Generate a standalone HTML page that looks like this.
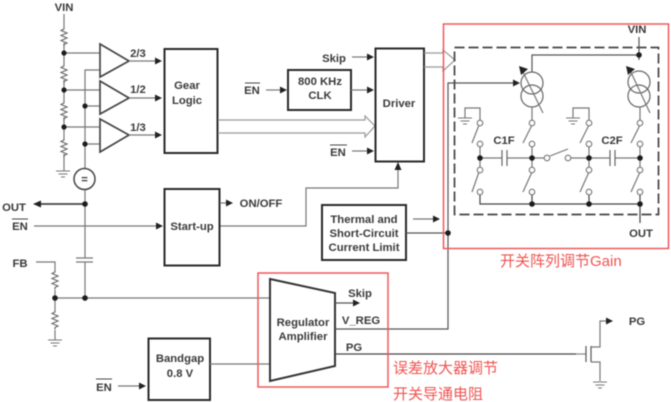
<!DOCTYPE html>
<html><head><meta charset="utf-8"><style>
html,body{margin:0;padding:0;background:#fff;width:671px;height:402px;overflow:hidden}
svg{display:block;filter:blur(.6px)}
text{font-family:"Liberation Sans","Noto Sans CJK SC",sans-serif;font-weight:bold;font-size:11.3px;fill:#3a3a3a;text-anchor:middle}
.r{font-weight:normal;font-size:15px;fill:#ef5350;text-anchor:start}
.g{fill:none;stroke:#777;stroke-width:1.2}
.d{fill:none;stroke:#555;stroke-width:1.2}
.b{fill:#fff;stroke:#2a2a2a;stroke-width:2}
.t{fill:#fff;stroke:#444;stroke-width:1.7}
.h{fill:none;stroke:#999;stroke-width:1.2}
.c{fill:#fff;stroke:#777;stroke-width:1.1}
.n{fill:#1c1c1c}
</style></head><body>
<svg width="671" height="402" viewBox="0 0 671 402" xmlns="http://www.w3.org/2000/svg">
<defs>
<path id="res" d="M0 0l0 2 -3 1.5 6 2.5 -6 2.5 6 2.5 -6 2.5 6 2.5 -3 1.5 0 2" fill="none" stroke="#666" stroke-width="1.1"/>
<path id="gnd" d="M-7 0H7M-4.5 3H4.5M-2 6H2" fill="none" stroke="#777" stroke-width="1.1"/>
<path id="ar" d="M0 -3.5L7 0 0 3.5z" fill="#222"/>
</defs>

<!-- left divider -->
<path class="g" d="M64 14V27M64 43V64M64 80V101M64 117V138M64 154V171M64 53H100M64 90H100M64 127H100"/>
<use href="#res" x="64" y="27"/><use href="#res" x="64" y="64"/><use href="#res" x="64" y="101"/><use href="#res" x="64" y="138"/>
<use href="#gnd" x="63" y="171"/>
<path class="g" d="M99 70H85V168M85 106H100M85 144H100M85 190V258M85 262V298"/>
<circle class="n" cx="64" cy="53" r="2.600"/><circle class="n" cx="64" cy="90" r="2.600"/><circle class="n" cx="64" cy="127" r="2.600"/>
<circle class="n" cx="85" cy="106" r="2.600"/><circle class="n" cx="85" cy="144" r="2.600"/>
<polygon class="t" points="100,44 129,61 100,77"/><polygon class="t" points="100,81 129,98 100,114"/><polygon class="t" points="100,119 129,135 100,152"/>
<path class="g" d="M129 61H155M129 98H155M129 135H155"/>
<use href="#ar" x="155" y="61"/><use href="#ar" x="155" y="98"/><use href="#ar" x="155" y="135"/>
<text x="138" y="57">2/3</text><text x="138" y="93">1/2</text><text x="138" y="131">1/3</text>
<text x="64" y="11">VIN</text>
<circle cx="84.500" cy="179" r="10.500" fill="#fff" stroke="#444" stroke-width="1.500"/>
<text x="84.500" y="183">=</text>
<rect class="b" x="164.500" y="49" width="53" height="104"/>
<text x="187" y="89">Gear</text><text x="187" y="104">Logic</text>

<!-- hollow bus -->
<path class="h" d="M218 120H365V116L375 126 365 137V133H218"/>

<!-- clock/driver -->
<text x="334" y="62">Skip</text>
<path class="g" d="M352 57H367"/><use href="#ar" x="367" y="57"/>
<rect class="b" x="288" y="70" width="63" height="40"/>
<text x="320" y="85">800 KHz</text><text x="320" y="99">CLK</text>
<text x="252" y="94">EN</text><path d="M245 83H260" stroke="#444" stroke-width="1"/>
<path class="g" d="M266 90H280"/><use href="#ar" x="280" y="90"/>
<path class="g" d="M351 90H367"/><use href="#ar" x="367" y="90"/>
<rect class="b" x="375.500" y="48.500" width="48.500" height="113"/>
<text x="399" y="107">Driver</text>
<text x="338" y="156">EN</text><path d="M330 145H347" stroke="#444" stroke-width="1"/>
<path class="g" d="M352 151H367"/><use href="#ar" x="367" y="151"/>
<path class="h" d="M424 53H443V50L455 60 443 71V67H424"/>

<!-- start-up -->
<path class="g" d="M220 226H306V188H398V170"/>
<path d="M394.500 170L398 162 401.500 170z" fill="#222"/>
<rect class="b" x="164.500" y="189" width="55" height="76.500"/>
<text x="192" y="230">Start-up</text>
<path class="g" d="M220 203H226"/><use href="#ar" x="226" y="203"/>
<text x="261" y="207">ON/OFF</text>
<rect class="b" x="322" y="205" width="84" height="55"/>
<text x="364" y="223">Thermal and</text><text x="364" y="237">Short-Circuit</text><text x="364" y="251">Current Limit</text>
<path class="g" d="M413 219H433"/><use href="#ar" x="433" y="219"/>
<path class="d" d="M406 233H448"/>

<!-- OUT / EN / FB -->
<text x="14" y="211">OUT</text>
<path d="M40 204H85" stroke="#444" stroke-width="1.800"/><path d="M33 204L41 200.500V207.500z" fill="#222"/>
<circle class="n" cx="85" cy="204" r="2.800"/>
<text x="20" y="230">EN</text><path d="M12 219H28" stroke="#444" stroke-width="1"/>
<path class="g" d="M34 226H156"/><use href="#ar" x="156" y="226"/>
<path d="M76 258H93M76 262H93" stroke="#777" stroke-width="1.300"/>
<text x="20" y="267">FB</text>
<path class="g" d="M36 262H55V270M55 290V310M55 330V340M55 298H270"/>
<use href="#res" x="55" y="270"/><use href="#res" x="55" y="310"/><use href="#gnd" x="55" y="340"/>
<circle class="n" cx="55" cy="298" r="2.800"/><circle class="n" cx="85" cy="298" r="2.800"/>

<!-- bandgap -->
<rect class="b" x="148.500" y="338.500" width="61.500" height="61.500"/>
<text x="180" y="362">Bandgap</text><text x="180" y="377">0.8 V</text>
<text x="104" y="391">EN</text><path d="M96 379H112" stroke="#444" stroke-width="1"/>
<path class="g" d="M118 386H139"/><use href="#ar" x="139" y="386"/>
<path class="g" d="M210 364H270"/>

<!-- regulator -->
<polygon class="t" style="stroke:#333;stroke-width:2" points="270,279 335,293 335,366 270,381"/>
<text x="303" y="326">Regulator</text><text x="303" y="340">Amplifier</text>
<path class="d" d="M335 303H353"/><use href="#ar" x="353" y="303"/>
<text x="360" y="297">Skip</text><text x="361" y="324">V_REG</text><text x="354" y="351">PG</text>
<path class="d" d="M335 329H448V83H513"/><use href="#ar" x="513" y="83"/>
<path d="M335 354H576" stroke="#444" stroke-width="1.200"/><path d="M576 354H586" stroke="#888" stroke-width="1.200"/>
<path class="d" d="M586 346V362M591 346V362"/>
<path class="g" d="M591 347H600V321H606M591 362H600V381"/><use href="#ar" x="606" y="321"/><use href="#gnd" x="600" y="382"/>
<text x="637" y="325">PG</text>
<circle class="n" cx="448" cy="233" r="2.800"/>

<!-- switch array -->
<rect x="454.500" y="47.500" width="204" height="167" fill="none" stroke="#444" stroke-width="1.700" stroke-dasharray="10 4"/>
<text x="637" y="33">VIN</text>
<path class="d" d="M639 37V60M532 72V55H639"/>
<circle class="n" cx="639" cy="55" r="2.800"/>
<g fill="none" stroke="#666" stroke-width="1.200">
<circle cx="532" cy="83" r="11"/><circle cx="532" cy="96" r="11"/>
<circle cx="639" cy="82" r="11"/><circle cx="639" cy="96" r="11"/>
</g>
<path class="g" d="M521 68L543 113M629 68L650 113M532 107V120M640 107V120"/>
<path d="M519 66L528 69 521 75z M626 66L635 69 628 75z" fill="#222"/>
<!-- ground loops -->
<path class="g" d="M480 120V108H465V118M589 120V108H573V118"/>
<use href="#gnd" x="465" y="118"/><use href="#gnd" x="573" y="118"/>
<!-- rails -->
<path class="g" d="M480 158H502M507 158H545M570 158H610M615 158H640"/>
<path d="M502 150V166M507 150V166M610 150V166M615 150V166" stroke="#666" stroke-width="1.200"/>
<path class="g" d="M480 146V170M532 146V170M589 146V170M640 146V170"/>
<path d="M480 195V204H640M532 195V204M589 195V204M640 195V204M640 204V223" fill="none" stroke="#444" stroke-width="1.200"/>
<!-- levers -->
<path class="g" d="M479 125L472 143M532 125L523 143M589 125L580 143M640 125L631 143M479 172L472 192M532 172L523 192M589 172L580 192M640 172L631 192M550 156L568 149"/>
<g>
<circle class="c" cx="480" cy="123" r="2.800"/><circle class="c" cx="532" cy="123" r="2.800"/><circle class="c" cx="589" cy="123" r="2.800"/><circle class="c" cx="640" cy="123" r="2.800"/>
<circle class="c" cx="480" cy="144" r="2.800"/><circle class="c" cx="532" cy="144" r="2.800"/><circle class="c" cx="589" cy="144" r="2.800"/><circle class="c" cx="640" cy="144" r="2.800"/>
<circle class="c" cx="480" cy="170" r="2.800"/><circle class="c" cx="532" cy="170" r="2.800"/><circle class="c" cx="589" cy="170" r="2.800"/><circle class="c" cx="640" cy="170" r="2.800"/>
<circle class="c" cx="480" cy="192" r="2.800"/><circle class="c" cx="532" cy="192" r="2.800"/><circle class="c" cx="589" cy="192" r="2.800"/><circle class="c" cx="640" cy="192" r="2.800"/>
<circle class="c" cx="547" cy="158" r="2.800"/><circle class="c" cx="568" cy="158" r="2.800"/>
</g>
<g class="n">
<circle cx="480" cy="158" r="2.800"/><circle cx="532" cy="158" r="2.800"/><circle cx="589" cy="158" r="2.800"/><circle cx="640" cy="158" r="2.800"/>
<circle cx="532" cy="204" r="2.800"/><circle cx="589" cy="204" r="2.800"/><circle cx="640" cy="204" r="2.800"/>
</g>
<text x="504" y="144">C1F</text><text x="612" y="144">C2F</text>
<text x="641" y="237">OUT</text>

<!-- red annotations -->
<rect x="443.500" y="24" width="225" height="224.500" fill="none" stroke="#f0585a" stroke-width="1.500"/>
<rect x="258" y="273" width="130" height="114" fill="none" stroke="#f0585a" stroke-width="1.500"/>
<text class="r" x="500" y="266">开关阵列调节Gain</text>
<text class="r" x="393" y="373">误差放大器调节</text>
<text class="r" x="393" y="399">开关导通电阻</text>
</svg>
</body></html>
